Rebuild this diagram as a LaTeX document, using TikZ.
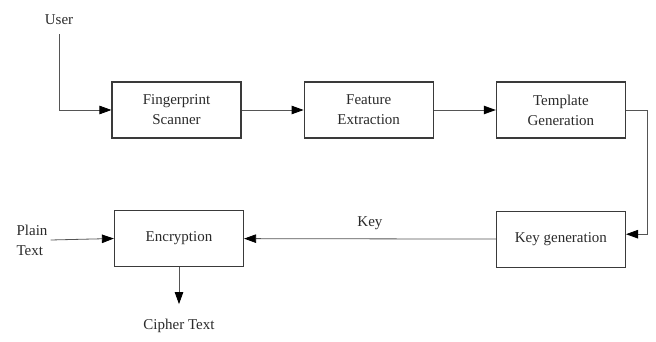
\documentclass[tikz,border=0pt]{standalone}
\usepackage{fontspec}
\setmainfont{Liberation Serif}
\usetikzlibrary{positioning,arrows.meta}
\definecolor{boxline}{HTML}{3A3A3A}
\definecolor{wire}{HTML}{555555}
\definecolor{ink}{HTML}{2A2A2A}

\begin{document}
\begin{tikzpicture}[x=1pt, y=-1pt, font=\fontsize{15}{20}\selectfont, text=ink]
    \tikzstyle{block}=[draw=boxline, line width=1.2pt, minimum width=129pt,
                       minimum height=56pt, align=center]
    \tikzstyle{flow}=[draw=wire, line width=0.8pt,
                      -{Triangle[length=12pt,width=8.5pt,color=black]}]
    \tikzstyle{tag}=[inner sep=1pt, align=left]

    \useasboundingbox (0,0) rectangle (656,342);

    \node[block] (fs) at (176.5,110) {Fingerprint\\Scanner};
    \node[block, right=62pt of fs] (fx) {Feature\\Extraction};
    \node[block, right=62pt of fx] (tg) {Template\\Generation};
    \node[block, below=72pt of tg] (kg) {Key generation};
    \node[block] (enc) at (179,238.5) {Encryption};

    \node[tag] (user) at (59,20) {User};
    \node[tag] (plain) at (32,240) {Plain\\Text};
    \coordinate (ctip) at ([yshift=-37pt]enc.south);
    \node[tag, below=14pt of ctip] (cipher) {Cipher Text};

    \draw[flow] ([yshift=-8pt]user.south) |- (fs.west);
    \draw[flow] (fs) -- (fx);
    \draw[flow] (fx) -- (tg);
    \draw[flow] (tg.east) -- ++(21pt,0) |- ([yshift=5pt]kg.east);
    \draw[flow] (kg) -- node[above=5pt, text=ink]{Key} (enc);
    \draw[flow] ([xshift=2pt]plain.east) -- (enc.west);
    \draw[flow] (enc.south) -- (ctip);
\end{tikzpicture}
\end{document}
